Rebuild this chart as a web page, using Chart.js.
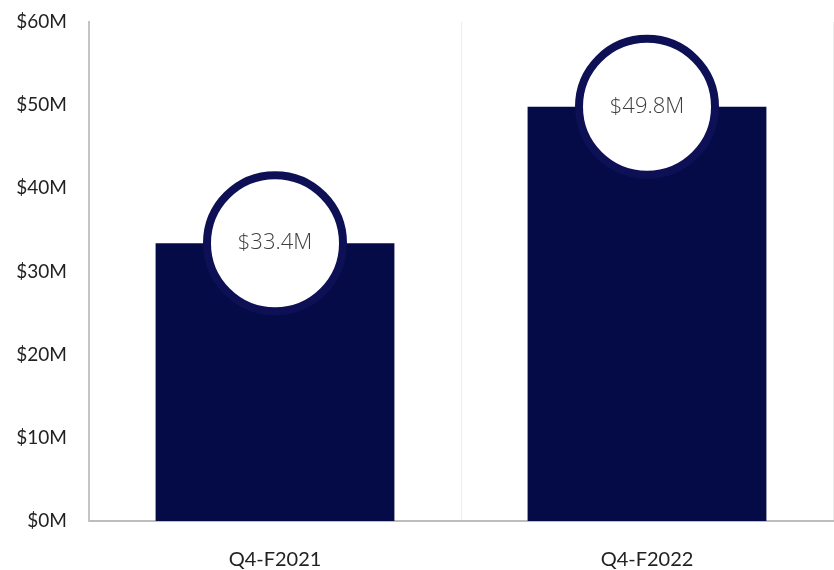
<!DOCTYPE html>
<html>
<head>
<meta charset="utf-8">
<script src="https://cdn.jsdelivr.net/npm/chart.js@4.4.0/dist/chart.umd.min.js"></script>
<style>
  html, body { margin: 0; padding: 0; background: #fff; overflow: hidden; }
  canvas { display: block; }
</style>
</head>
<body>
<canvas id="revenueChart" width="834" height="570"></canvas>
<script>
const quarters = ['Q4-F2021', 'Q4-F2022'];
const revenue = [33.4, 49.8];          // $M
const yTicks = [0, 10, 20, 30, 40, 50, 60];

const navy = '#040b46';
const ringNavy = '#0e1056';

// White badge with navy ring sitting on top of each bar
const badgePlugin = {
    id: 'badges',
    afterDatasetsDraw(chart) {
        const ctx = chart.ctx;
        const meta = chart.getDatasetMeta(0);
        meta.data.forEach((bar, i) => {
            ctx.save();
            ctx.beginPath();
            ctx.arc(bar.x, bar.y, 68, 0, Math.PI * 2);
            ctx.fillStyle = '#ffffff';
            ctx.fill();
            ctx.lineWidth = 8;
            ctx.strokeStyle = ringNavy;
            ctx.stroke();
            ctx.fillStyle = '#3f3f3f';
            ctx.font = '300 22px "Open Sans"';
            ctx.textAlign = 'center';
            ctx.textBaseline = 'middle';
            ctx.fillText('$' + revenue[i].toFixed(1) + 'M', bar.x, bar.y);
            ctx.restore();
        });
    }
};

document.addEventListener('DOMContentLoaded', () => {
    const ctx = document.getElementById('revenueChart').getContext('2d');

    new Chart(ctx, {
        type: 'bar',
        data: {
            labels: quarters,
            datasets: [{
                data: revenue,
                backgroundColor: navy,
                borderWidth: 0,
                categoryPercentage: 1,
                barPercentage: 0.642
            }]
        },
        options: {
            responsive: false,
            animation: false,
            layout: { padding: { top: 22, right: 1, bottom: 0, left: 0 } },
            plugins: {
                legend: { display: false },
                tooltip: { enabled: false }
            },
            scales: {
                x: {
                    afterFit(scale) { scale.height = 49; },
                    grid: {
                        offset: true,
                        color: '#ececec',
                        lineWidth: 1,
                        drawTicks: false
                    },
                    border: { color: '#bdbdbd', width: 2 },
                    ticks: {
                        color: '#222',
                        padding: 27,
                        font: { family: 'Lato', size: 20 }
                    }
                },
                y: {
                    min: 0,
                    max: 60,
                    afterFit(scale) {
                        scale.width = 89;
                        scale.paddingTop = 0;
                        scale.paddingBottom = 0;
                    },
                    afterBuildTicks(scale) {
                        scale.ticks = yTicks.map(v => ({ value: v }));
                    },
                    grid: { display: false, drawTicks: false },
                    border: { color: '#c4c4c4', width: 2 },
                    ticks: {
                        color: '#222',
                        padding: 22,
                        font: { family: 'Lato', size: 19 },
                        callback: v => '$' + v + 'M'
                    }
                }
            }
        },
        plugins: [badgePlugin]
    });
});
</script>
</body>
</html>
